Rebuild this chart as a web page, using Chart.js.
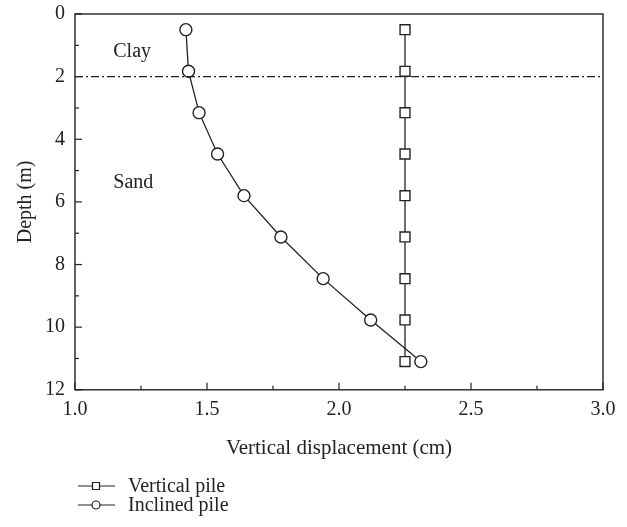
<!DOCTYPE html>
<html>
<head>
<meta charset="utf-8">
<script src="https://cdn.jsdelivr.net/npm/chart.js@4.4.1/dist/chart.umd.min.js"></script>
<style>
  html, body { margin: 0; padding: 0; background: #fff; }
  #wrap { width: 627px; height: 527px; }
</style>
</head>
<body>
<div id="wrap"><canvas id="depthChart"></canvas></div>
<script>
// values
const depths = [0.5, 1.83, 3.15, 4.47, 5.8, 7.12, 8.45, 9.77, 11.1];
const verticalPile = [2.25, 2.25, 2.25, 2.25, 2.25, 2.25, 2.25, 2.25, 2.25];
const inclinedPile = [1.42, 1.43, 1.47, 1.54, 1.64, 1.78, 1.94, 2.12, 2.31];
const seriesNames = ["Vertical pile", "Inclined pile"];
const layerDepth = 2;
const soilNames = ["Clay", "Sand"];
const soilAt = [[1.145, 1.2], [1.145, 5.4]];
const xRange = [1.0, 3.0];
const yRange = [0, 12];

const ink = "#222";
const font = "'Liberation Serif', 'Times New Roman', serif";

function toPoints(xs) {
  return xs.map((v, i) => ({ x: v, y: depths[i] }));
}

// frame, inward ticks, soil labels and the legend underneath
const decorations = {
  id: "decorations",
  beforeDatasetsDraw(chart) {
    const { ctx, chartArea: a, scales } = chart;
    ctx.save();
    ctx.strokeStyle = ink;
    ctx.lineWidth = 1.4;
    ctx.strokeRect(a.left, a.top, a.right - a.left, a.bottom - a.top);

    ctx.lineWidth = 1.2;
    for (let v = xRange[0]; v <= xRange[1] + 1e-9; v += 0.25) {
      const px = scales.x.getPixelForValue(v);
      const len = Math.abs(v * 2 - Math.round(v * 2)) < 1e-6 ? 7 : 4;
      ctx.beginPath();
      ctx.moveTo(px, a.bottom);
      ctx.lineTo(px, a.bottom - len);
      ctx.stroke();
    }
    for (let v = yRange[0]; v <= yRange[1]; v += 1) {
      const py = scales.y.getPixelForValue(v);
      const len = v % 2 === 0 ? 7 : 4;
      ctx.beginPath();
      ctx.moveTo(a.left, py);
      ctx.lineTo(a.left + len, py);
      ctx.stroke();
    }

    ctx.fillStyle = ink;
    ctx.font = "20px " + font;
    ctx.textAlign = "left";
    ctx.textBaseline = "middle";
    soilNames.forEach((name, i) => {
      ctx.fillText(name, scales.x.getPixelForValue(soilAt[i][0]), scales.y.getPixelForValue(soilAt[i][1]));
    });
    ctx.restore();
  },
  afterDraw(chart) {
    const { ctx } = chart;
    ctx.save();
    ctx.strokeStyle = ink;
    ctx.fillStyle = ink;
    ctx.font = "20px " + font;
    ctx.textBaseline = "middle";
    ctx.lineWidth = 1.2;
    chart.data.datasets.filter(d => d.inLegend).forEach((d, i) => {
      const y = 486 + i * 19;
      ctx.beginPath();
      ctx.moveTo(78, y);
      ctx.lineTo(115, y);
      ctx.stroke();
      ctx.fillStyle = "#fff";
      ctx.beginPath();
      if (d.pointStyle === "rect") {
        ctx.rect(92.5, y - 3.5, 7, 7);
      } else {
        ctx.arc(96, y, 4, 0, Math.PI * 2);
      }
      ctx.fill();
      ctx.stroke();
      ctx.fillStyle = ink;
      ctx.fillText(d.label, 128, y + 1);
    });
    ctx.restore();
  }
};

const ctx = document.getElementById("depthChart");

new Chart(ctx, {
  type: "line",
  data: {
    datasets: [
      {
        label: "layer",
        data: [{ x: xRange[0], y: layerDepth }, { x: xRange[1], y: layerDepth }],
        borderColor: ink,
        borderWidth: 1.2,
        borderDash: [8, 3, 2, 3],
        pointRadius: 0,
        inLegend: false,
      },
      {
        label: seriesNames[0],
        data: toPoints(verticalPile),
        borderColor: ink,
        borderWidth: 1.3,
        pointStyle: "rect",
        pointRadius: 7,
        pointBorderWidth: 1.4,
        pointBackgroundColor: "#fff",
        pointBorderColor: ink,
        inLegend: true,
      },
      {
        label: seriesNames[1],
        data: toPoints(inclinedPile),
        borderColor: ink,
        borderWidth: 1.3,
        pointStyle: "circle",
        pointRadius: 6,
        pointBorderWidth: 1.4,
        pointBackgroundColor: "#fff",
        pointBorderColor: ink,
        inLegend: true,
      },
    ],
  },
  options: {
    responsive: true,
    maintainAspectRatio: false,
    animation: false,
    layout: { padding: { top: 14, right: 24, bottom: 66, left: 0 } },
    plugins: {
      legend: { display: false },
      tooltip: { enabled: false },
    },
    scales: {
      x: {
        type: "linear",
        min: xRange[0],
        max: xRange[1],
        grid: { display: false, drawTicks: false },
        border: { display: false },
        ticks: {
          stepSize: 0.5,
          padding: 8,
          color: ink,
          font: { family: font, size: 20 },
          callback: (v) => v.toFixed(1),
        },
        title: {
          display: true,
          text: "Vertical displacement (cm)",
          color: ink,
          font: { family: font, size: 21 },
          padding: { top: 6, bottom: 0 },
        },
      },
      y: {
        type: "linear",
        min: yRange[0],
        max: yRange[1],
        reverse: true,
        grid: { display: false, drawTicks: false },
        border: { display: false },
        ticks: {
          stepSize: 2,
          padding: 10,
          color: ink,
          font: { family: font, size: 20 },
        },
        title: {
          display: true,
          text: "Depth (m)",
          color: ink,
          font: { family: font, size: 20 },
          padding: { top: 14, bottom: 0 },
        },
        afterFit(scale) {
          scale.width = 75;
          scale.paddingTop = 0;
          scale.paddingBottom = 0;
        },
      },
    },
  },
  plugins: [decorations],
});
</script>
</body>
</html>
